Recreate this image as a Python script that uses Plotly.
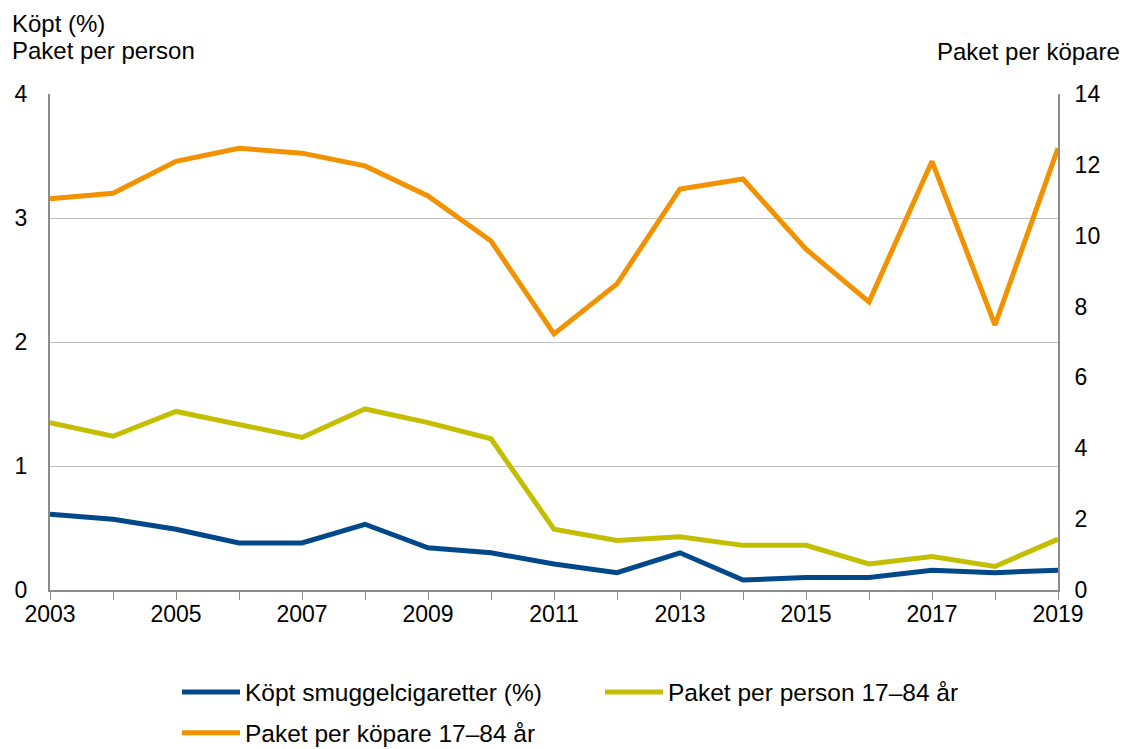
import plotly.graph_objects as go

years = list(range(2003, 2020))
kopt_pct = [0.61, 0.57, 0.49, 0.38, 0.38, 0.53, 0.34, 0.30, 0.21, 0.14, 0.30, 0.08, 0.10, 0.10, 0.16, 0.14, 0.16]
paket_person = [1.35, 1.24, 1.44, 1.33, 1.23, 1.46, 1.35, 1.22, 0.49, 0.40, 0.43, 0.36, 0.36, 0.21, 0.27, 0.19, 0.41]
paket_kopare = [11.04, 11.2, 12.1, 12.47, 12.33, 11.97, 11.12, 9.85, 7.23, 8.64, 11.32, 11.6, 9.62, 8.13, 12.1, 7.48, 12.47]

names = ["Köpt smuggelcigaretter (%)", "Paket per person 17–84 år", "Paket per köpare 17–84 år"]
colors = ["#00488A", "#C3BF00", "#F39200"]
x_ticks = [2003, 2005, 2007, 2009, 2011, 2013, 2015, 2017, 2019]

fig = go.Figure()
fig.add_trace(go.Scatter(x=years, y=kopt_pct, name=names[0], mode="lines",
                         line=dict(color=colors[0], width=5), legend="legend"))
fig.add_trace(go.Scatter(x=years, y=paket_person, name=names[1], mode="lines",
                         line=dict(color=colors[1], width=5), legend="legend"))
fig.add_trace(go.Scatter(x=years, y=paket_kopare, name=names[2], mode="lines",
                         line=dict(color=colors[2], width=5), yaxis="y2", legend="legend2"))

legend_font = dict(family="Liberation Sans, Arial", size=24.5, color="black")

fig.update_layout(
    width=1130, height=790,
    margin=dict(l=42, r=80, t=86, b=208),
    paper_bgcolor="white", plot_bgcolor="white",
    font=dict(family="Liberation Sans, Arial", size=23, color="black"),
    xaxis=dict(range=[2003, 2019], tickvals=years,
               ticktext=[str(y) if y in x_ticks else "" for y in years],
               showgrid=False, showline=True, linecolor="#8c8c8c", linewidth=2,
               ticks="outside", ticklen=8, tickcolor="#8c8c8c", tickwidth=1,
               zeroline=False, automargin=False, ticklabelstandoff=-6),
    yaxis=dict(range=[0, 4], tickvals=[0, 1, 2, 3, 4], showgrid=True,
               gridcolor="#c0c0c0", gridwidth=1, showline=True, linecolor="#8c8c8c",
               linewidth=2, zeroline=False, ticks="", ticklabelstandoff=16,
               automargin=False),
    yaxis2=dict(range=[0, 14], tickvals=[0, 2, 4, 6, 8, 10, 12, 14], overlaying="y",
                side="right", showgrid=False, showline=True, linecolor="#8c8c8c",
                linewidth=2, zeroline=False, ticks="", ticklabelstandoff=10,
                automargin=False),
    showlegend=True,
    legend=dict(orientation="h", x=0.126, xanchor="left", y=-0.2056, yanchor="middle",
                entrywidth=350, entrywidthmode="pixels", itemwidth=58, font=legend_font,
                bgcolor="rgba(0,0,0,0)"),
    legend2=dict(orientation="h", x=0.126, xanchor="left", y=-0.288, yanchor="middle",
                 itemwidth=58, font=legend_font, bgcolor="rgba(0,0,0,0)"),
    annotations=[
        dict(text="Köpt (%)", xref="paper", yref="paper", x=-0.0397, y=1.1734,
             xanchor="left", yanchor="top", showarrow=False, font=dict(size=24)),
        dict(text="Paket per person", xref="paper", yref="paper", x=-0.0397, y=1.0887,
             xanchor="left", yanchor="middle", showarrow=False, font=dict(size=24)),
        dict(text="Paket per köpare", xref="paper", yref="paper", x=1.0635, y=1.085,
             xanchor="right", yanchor="middle", showarrow=False, font=dict(size=24)),
    ],
)

fig.write_html("out.html")
